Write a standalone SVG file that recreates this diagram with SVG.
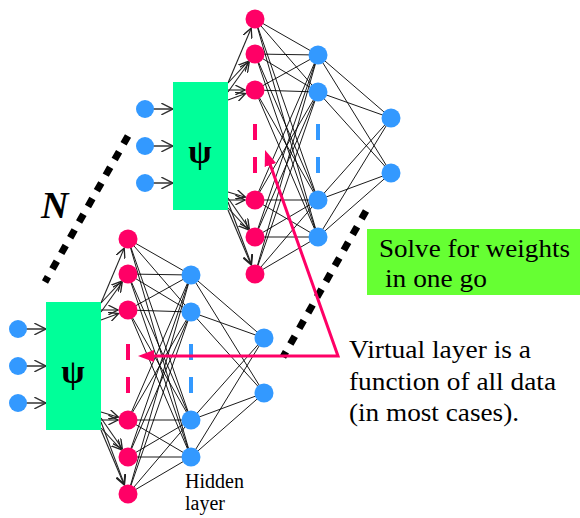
<svg xmlns="http://www.w3.org/2000/svg" width="580" height="518" viewBox="0 0 580 518">
<style>
.in{fill:#3399FF}
.hid{fill:#3399FF}
.red{fill:#FF0066}
.psi{fill:#00FF99}
.w{stroke:#000;stroke-width:0.9;fill:none}
.ar{stroke:#222;stroke-width:1.1;fill:none;marker-end:url(#chev)}
.ia{stroke:#333;stroke-width:1.5;fill:none;marker-end:url(#chevL)}
text{font-family:'Liberation Serif','Tinos','Times New Roman','DejaVu Serif','Noto Serif',serif;fill:#000}
.dots{stroke:#000;stroke-width:7;stroke-dasharray:9 9;fill:none}
</style>
<defs>
<marker id="chev" markerUnits="userSpaceOnUse" markerWidth="12" markerHeight="10" refX="8" refY="4" orient="auto" viewBox="0 0 10 8">
<path d="M0,0 L8,4 L0,8" stroke="#222" stroke-width="1.1" fill="none"/>
</marker>
<marker id="chevL" markerUnits="userSpaceOnUse" markerWidth="14" markerHeight="12" refX="10" refY="5" orient="auto" viewBox="0 0 12 10">
<path d="M0,0 L10,5 L0,10" stroke="#333" stroke-width="1.2" fill="none"/>
</marker>
<marker id="mag" markerUnits="userSpaceOnUse" markerWidth="17" markerHeight="13" refX="8" refY="6" orient="auto-start-reverse" viewBox="0 0 17 13">
<path d="M0,0 L16,6 L0,12 Z" fill="#FF0066"/>
</marker>
</defs>
<rect width="580" height="518" fill="#fff"/>

<g id="dotted">
<line class="dots" x1="128" y1="136" x2="45" y2="282"/>
<line class="dots" x1="366" y1="211" x2="283" y2="357"/>
</g>
<text id="label-N" x="41" y="218" font-size="38" font-weight="bold" font-style="italic">N</text>

<g id="net-top" transform="translate(127,-220)">
<g id="top-connectors">
<line class="ia" x1="26" y1="329" x2="46" y2="329"/>
<line class="ia" x1="26" y1="366" x2="46" y2="366"/>
<line class="ia" x1="26" y1="403" x2="46" y2="403"/>
<line class="ar" x1="101" y1="303" x2="124.2" y2="248.2"/>
<line class="ar" x1="101" y1="303" x2="121.2" y2="281.3"/>
<line class="ar" x1="101" y1="312" x2="122.2" y2="282.2"/>
<line class="ar" x1="101" y1="310" x2="118" y2="310"/>
<line class="ar" x1="101" y1="320" x2="118.6" y2="313.5"/>
<line class="ar" x1="101" y1="420" x2="118" y2="420"/>
<line class="ar" x1="101" y1="412" x2="118.4" y2="417.2"/>
<line class="ar" x1="101" y1="418" x2="122.3" y2="448.8"/>
<line class="ar" x1="101" y1="428" x2="121.2" y2="449.7"/>
<line class="ar" x1="101" y1="422" x2="124.5" y2="484.6"/>
<line class="ar" x1="101" y1="430" x2="124.1" y2="484.8"/>
<path class="w" d="M128 239L191 275M128 239L191 312M128 239L191 420M128 239L191 457M128 274L191 275M128 274L191 312M128 274L191 420M128 274L191 457M128 310L191 275M128 310L191 312M128 310L191 420M128 310L191 457M128 420L191 275M128 420L191 312M128 420L191 420M128 420L191 457M128 457L191 275M128 457L191 312M128 457L191 420M128 457L191 457M128 494L191 275M128 494L191 312M128 494L191 420M128 494L191 457"/>
<path class="w" d="M191 275L264 338M191 275L264 393M191 312L264 338M191 312L264 393M191 420L264 338M191 420L264 393M191 457L264 338M191 457L264 393"/>
<line x1="128" y1="344" x2="128" y2="393" stroke="#FF0066" stroke-width="4" stroke-dasharray="16 17"/>
<line x1="191" y1="344" x2="191" y2="393" stroke="#3399FF" stroke-width="4" stroke-dasharray="16 17"/>
</g>
<g id="top-psi"><rect class="psi" x="46" y="302" width="55" height="128"/><text x="73" y="383" font-size="34" font-weight="bold" text-anchor="middle">ψ</text></g>
<g id="top-in1"><circle class="in" cx="18" cy="329" r="9"/></g>
<g id="top-in2"><circle class="in" cx="18" cy="366" r="9"/></g>
<g id="top-in3"><circle class="in" cx="18" cy="403" r="9"/></g>
<g id="top-v1"><circle class="red" cx="128" cy="239" r="9.5"/></g>
<g id="top-v2"><circle class="red" cx="128" cy="274" r="9.5"/></g>
<g id="top-v3"><circle class="red" cx="128" cy="310" r="9.5"/></g>
<g id="top-v4"><circle class="red" cx="128" cy="420" r="9.5"/></g>
<g id="top-v5"><circle class="red" cx="128" cy="457" r="9.5"/></g>
<g id="top-v6"><circle class="red" cx="128" cy="494" r="9.5"/></g>
<g id="top-h1"><circle class="hid" cx="191" cy="275" r="9.5"/></g>
<g id="top-h2"><circle class="hid" cx="191" cy="312" r="9.5"/></g>
<g id="top-h3"><circle class="hid" cx="191" cy="420" r="9.5"/></g>
<g id="top-h4"><circle class="hid" cx="191" cy="457" r="9.5"/></g>
<g id="top-o1"><circle class="hid" cx="264" cy="338" r="9.5"/></g>
<g id="top-o2"><circle class="hid" cx="264" cy="393" r="9.5"/></g>
</g>

<g id="net-bottom">
<g id="bot-connectors">
<line class="ia" x1="26" y1="329" x2="46" y2="329"/>
<line class="ia" x1="26" y1="366" x2="46" y2="366"/>
<line class="ia" x1="26" y1="403" x2="46" y2="403"/>
<line class="ar" x1="101" y1="303" x2="124.2" y2="248.2"/>
<line class="ar" x1="101" y1="303" x2="121.2" y2="281.3"/>
<line class="ar" x1="101" y1="312" x2="122.2" y2="282.2"/>
<line class="ar" x1="101" y1="310" x2="118" y2="310"/>
<line class="ar" x1="101" y1="320" x2="118.6" y2="313.5"/>
<line class="ar" x1="101" y1="420" x2="118" y2="420"/>
<line class="ar" x1="101" y1="412" x2="118.4" y2="417.2"/>
<line class="ar" x1="101" y1="418" x2="122.3" y2="448.8"/>
<line class="ar" x1="101" y1="428" x2="121.2" y2="449.7"/>
<line class="ar" x1="101" y1="422" x2="124.5" y2="484.6"/>
<line class="ar" x1="101" y1="430" x2="124.1" y2="484.8"/>
<path class="w" d="M128 239L191 275M128 239L191 312M128 239L191 420M128 239L191 457M128 274L191 275M128 274L191 312M128 274L191 420M128 274L191 457M128 310L191 275M128 310L191 312M128 310L191 420M128 310L191 457M128 420L191 275M128 420L191 312M128 420L191 420M128 420L191 457M128 457L191 275M128 457L191 312M128 457L191 420M128 457L191 457M128 494L191 275M128 494L191 312M128 494L191 420M128 494L191 457"/>
<path class="w" d="M191 275L264 338M191 275L264 393M191 312L264 338M191 312L264 393M191 420L264 338M191 420L264 393M191 457L264 338M191 457L264 393"/>
<line x1="128" y1="344" x2="128" y2="393" stroke="#FF0066" stroke-width="4" stroke-dasharray="16 17"/>
<line x1="191" y1="344" x2="191" y2="393" stroke="#3399FF" stroke-width="4" stroke-dasharray="16 17"/>
</g>
<g id="bot-psi"><rect class="psi" x="46" y="302" width="55" height="128"/><text x="73" y="383" font-size="34" font-weight="bold" text-anchor="middle">ψ</text></g>
<g id="bot-in1"><circle class="in" cx="18" cy="329" r="9"/></g>
<g id="bot-in2"><circle class="in" cx="18" cy="366" r="9"/></g>
<g id="bot-in3"><circle class="in" cx="18" cy="403" r="9"/></g>
<g id="bot-v1"><circle class="red" cx="128" cy="239" r="9.5"/></g>
<g id="bot-v2"><circle class="red" cx="128" cy="274" r="9.5"/></g>
<g id="bot-v3"><circle class="red" cx="128" cy="310" r="9.5"/></g>
<g id="bot-v4"><circle class="red" cx="128" cy="420" r="9.5"/></g>
<g id="bot-v5"><circle class="red" cx="128" cy="457" r="9.5"/></g>
<g id="bot-v6"><circle class="red" cx="128" cy="494" r="9.5"/></g>
<g id="bot-h1"><circle class="hid" cx="191" cy="275" r="9.5"/></g>
<g id="bot-h2"><circle class="hid" cx="191" cy="312" r="9.5"/></g>
<g id="bot-h3"><circle class="hid" cx="191" cy="420" r="9.5"/></g>
<g id="bot-h4"><circle class="hid" cx="191" cy="457" r="9.5"/></g>
<g id="bot-o1"><circle class="hid" cx="264" cy="338" r="9.5"/></g>
<g id="bot-o2"><circle class="hid" cx="264" cy="393" r="9.5"/></g>
</g>

<g id="hidden-label">
<text x="185" y="488" font-size="20">Hidden</text>
<text x="185" y="510" font-size="20">layer</text>
</g>

<g id="pointer">
<polyline points="267.7,157.5 338,356 146,356" fill="none" stroke="#FF0066" stroke-width="3" stroke-linejoin="miter" marker-start="url(#mag)" marker-end="url(#mag)"/>
</g>

<g id="solve-box">
<rect x="367" y="229" width="213" height="66" fill="#66FF33"/>
<text x="379" y="257" font-size="26" textLength="191" lengthAdjust="spacingAndGlyphs">Solve for weights</text>
<text x="385" y="287" font-size="26" textLength="102" lengthAdjust="spacingAndGlyphs">in one go</text>
</g>

<g id="virtual-label">
<text x="349" y="358" font-size="25" textLength="182" lengthAdjust="spacingAndGlyphs">Virtual layer is a</text>
<text x="349" y="390" font-size="25" textLength="207" lengthAdjust="spacingAndGlyphs">function of all data</text>
<text x="349" y="421" font-size="25" textLength="170" lengthAdjust="spacingAndGlyphs">(in most cases).</text>
</g>
</svg>
